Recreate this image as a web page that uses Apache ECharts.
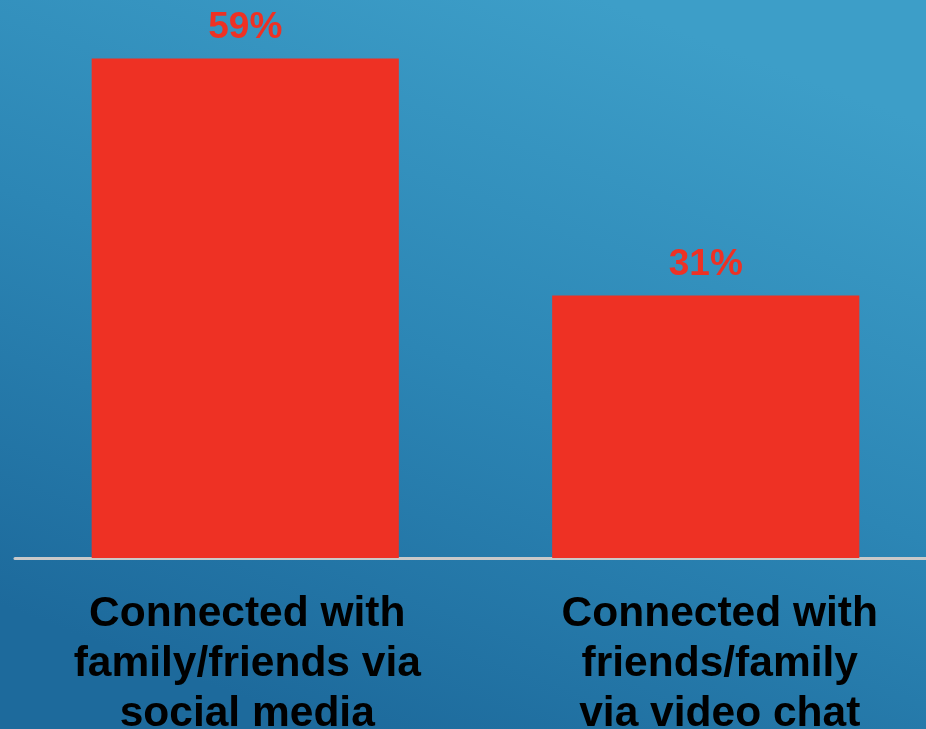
<!DOCTYPE html>
<html><head><meta charset="utf-8">
<script src="https://cdn.jsdelivr.net/npm/echarts@6/dist/echarts.min.js"></script>
<style>html,body{margin:0;padding:0;}#c{width:926px;height:729px;}</style>
</head><body><div id="c"></div>
<script>
var categories = ["Connected with\nfamily/friends via\nsocial media", "Connected with\nfriends/family\nvia video chat"];
var values = [59, 31];
var valueLabels = ["59%", "31%"];

var labelPads = [[0,0,0,4],[0,0,0,28]];
var chart = echarts.init(document.getElementById('c'));
chart.setOption({
  backgroundColor: {type:'linear', x:0.65, y:0, x2:0.35, y2:1, colorStops:[
    {offset:0, color:'#3d9ec8'}, {offset:0.5, color:'#2c86b5'}, {offset:1, color:'#1d6a9c'}]},
  animation: false,
  grid: {left: 15, right: -10, top: 50, bottom: 171, containLabel: false, outerBoundsMode: 'none'},
  xAxis: {type:'category',
    data: categories.map(function(c, i){ return {value: c, textStyle: {padding: labelPads[i]}}; }),
    axisLine:{lineStyle:{color:'#c9c9c9', width:3}},
    axisTick:{show:false},
    axisLabel:{interval:0, color:'#000', fontFamily:'Liberation Sans, Arial, sans-serif', fontWeight:'bold', fontSize:42.5, lineHeight:50, margin:31}},
  yAxis: {type:'value', min:0, max:60, show:false, splitLine:{show:false}},
  series: [{type:'bar', barWidth:'66.7%',
    data: values,
    itemStyle:{color:'#ee3124'},
    label:{show:true, position:'top', distance:12, color:'#ee3124', fontFamily:'Liberation Sans, Arial, sans-serif', fontWeight:'bold', fontSize:37,
      formatter:function(p){return valueLabels[p.dataIndex];}}
  }]
});
</script></body></html>
